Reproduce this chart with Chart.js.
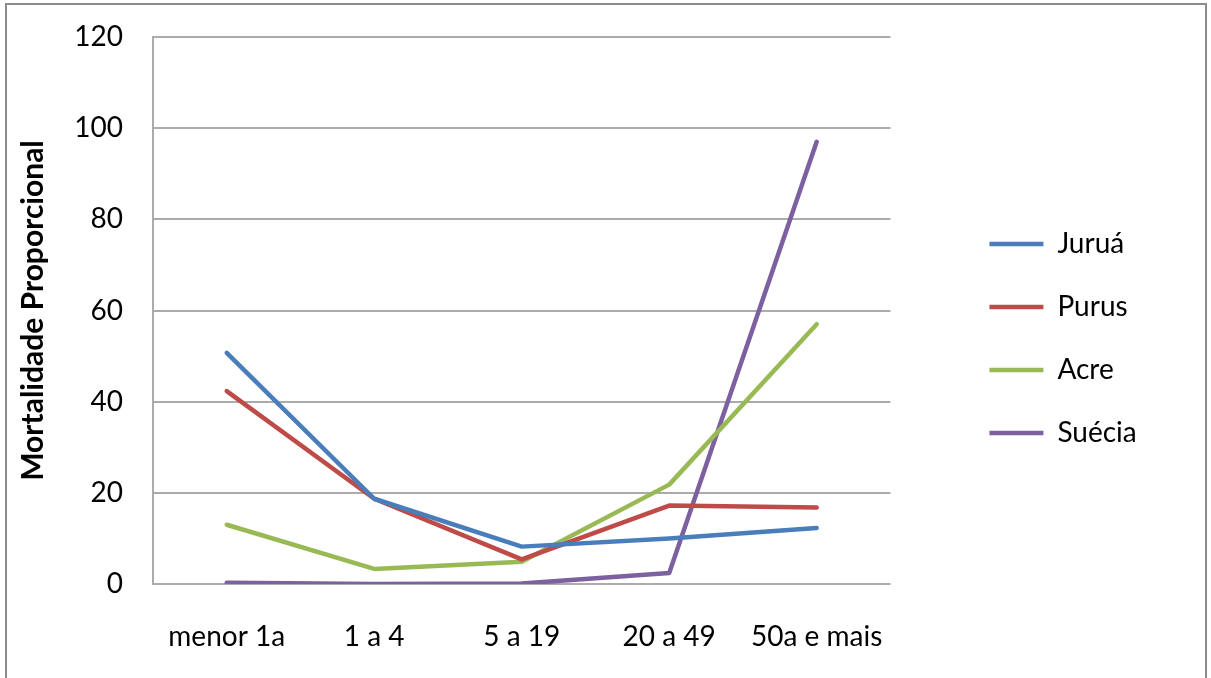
<!DOCTYPE html>
<html>
<head>
<meta charset="utf-8">
<script src="https://cdn.jsdelivr.net/npm/chart.js@4.4.1/dist/chart.umd.min.js"></script>
<style>
  html, body { margin: 0; padding: 0; background: #fff; }
  #wrap { position: relative; width: 1211px; height: 678px; overflow: hidden; }
  #frame { position: absolute; left: 5px; top: 3px; width: 1202px; height: 720px;
           border: 2px solid #8c8c8c; box-sizing: border-box; }
  #chart { position: absolute; left: 0; top: 0; }
</style>
</head>
<body>
<div id="wrap">
  <div id="frame"></div>
  <canvas id="chart" width="1211" height="678"></canvas>
</div>
<script>
// Age groups on the horizontal axis
const ageGroups = ['menor 1a', '1 a 4', '5 a 19', '20 a 49', '50a e mais'];

// Proportional mortality (%) per age group
const jurua  = [50.7, 18.7, 8.2, 10.0, 12.3];
const purus  = [42.3, 18.7, 5.4, 17.2, 16.8];
const acre   = [13.0, 3.3, 4.9, 21.8, 57.0];
const suecia = [0.3, 0.0, 0.1, 2.4, 97.0];

const seriesNames  = ['Juruá', 'Purus', 'Acre', 'Suécia'];
const seriesValues = [jurua, purus, acre, suecia];
const seriesColors = ['#4A7EBB', '#BE4B48', '#98B954', '#7D60A0'];

const yTicks = { min: 0, max: 120, step: 20 };

const fontFamily = 'Lato, "Open Sans", sans-serif';
const labelSize = 28;

// legend geometry
const legendLine = 54;
const legendPad = 35;
const plotRight = 889;   // right edge of the plotting area
const legendGap = 64;    // free space between plot and legend box

const datasets = seriesNames.map((name, i) => ({
  label: name,
  data: seriesValues[i],
  borderColor: seriesColors[i],
  backgroundColor: seriesColors[i],
  borderWidth: 4.5,
  borderCapStyle: 'round',
  borderJoinStyle: 'round',
  pointRadius: 0,
  pointHoverRadius: 0,
  tension: 0,
  fill: false
}));

// natural width of the legend box for the given labels
function legendWidth(ctx) {
  ctx.save();
  ctx.font = `${labelSize}px ${fontFamily}`;
  const textW = Math.max(...seriesNames.map(n => ctx.measureText(n).width));
  ctx.restore();
  return legendPad + legendLine + labelSize / 2 + textW + 10;
}

new Chart(document.getElementById('chart'), {
  type: 'line',
  data: { labels: ageGroups, datasets },
  options: {
    responsive: false,
    animation: false,
    devicePixelRatio: 1,
    layout: {
      padding: ctx => ({
        top: 0, bottom: 1, left: 0,
        right: Math.max(0, ctx.chart.width - plotRight - legendGap - legendWidth(ctx.chart.ctx))
      })
    },
    plugins: {
      tooltip: { enabled: false },
      legend: {
        position: 'right',
        labels: {
          usePointStyle: true,
          pointStyle: 'line',
          pointStyleWidth: legendLine,
          padding: legendPad,
          color: '#000',
          font: { family: fontFamily, size: labelSize }
        }
      }
    },
    scales: {
      x: {
        offset: true,
        grid: { display: false, drawTicks: false },
        border: { display: false },
        ticks: {
          color: '#000',
          padding: 36,
          maxRotation: 0,
          autoSkip: false,
          font: { family: fontFamily, size: labelSize }
        },
        afterFit: s => { s.height = 93; s.paddingLeft = 0; s.paddingRight = 0; }
      },
      y: {
        min: yTicks.min,
        max: yTicks.max,
        grid: { color: '#ababab', lineWidth: 2, drawTicks: false },
        border: { display: true, color: '#ababab', width: 2 },
        ticks: {
          stepSize: yTicks.step,
          color: '#000',
          padding: 30,
          font: { family: fontFamily, size: labelSize }
        },
        title: {
          display: true,
          text: 'Mortalidade Proporcional',
          color: '#000',
          padding: { top: 15, bottom: 0 },
          font: { family: fontFamily, size: 30, weight: 'bold' }
        },
        afterFit: s => { s.width = 153; s.paddingTop = 37; s.paddingBottom = 0; }
      },
      gap: {
        type: 'linear',
        position: 'right',
        display: true,
        grid: { display: false },
        border: { display: false },
        ticks: { display: false },
        afterFit: s => { s.width = legendGap; }
      }
    }
  }
});
</script>
</body>
</html>
